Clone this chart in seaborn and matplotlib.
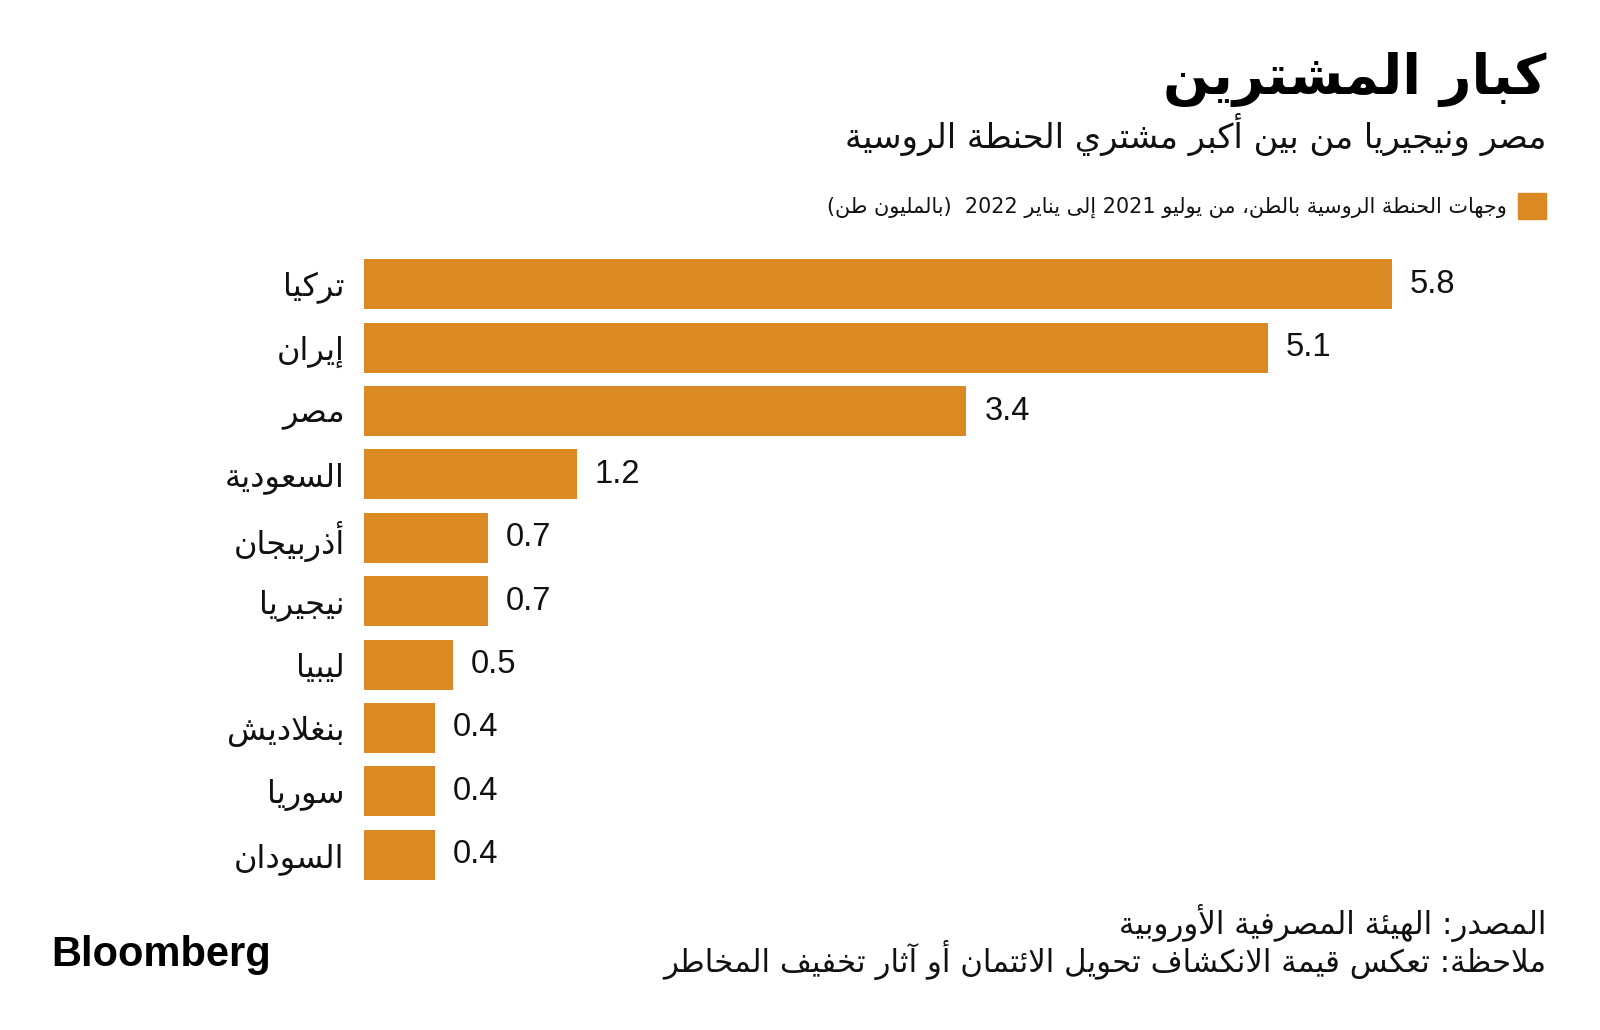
import matplotlib
matplotlib.use("Agg")
import matplotlib.pyplot as plt
import seaborn as sns
from matplotlib.patches import Rectangle

# ---------------- data ----------------
countries = ["تركيا", "إيران", "مصر", "السعودية", "أذربيجان",
             "نيجيريا", "ليبيا", "بنغلاديش", "سوريا", "السودان"]
values = [5.8, 5.1, 3.4, 1.2, 0.7, 0.7, 0.5, 0.4, 0.4, 0.4]

title = "كبار المشترين"
subtitle = "مصر ونيجيريا من بين أكبر مشتري الحنطة الروسية"
legend_label = "وجهات الحنطة الروسية بالطن، من يوليو 2021 إلى يناير 2022  (بالمليون طن)"
source = "المصدر: الهيئة المصرفية الأوروبية"
note = "ملاحظة: تعكس قيمة الانكشاف تحويل الائتمان أو آثار تخفيف المخاطر"
brand = "Bloomberg"

BAR = "#DA8923"

# ---------------- Arabic shaping (presentation forms + visual order) ----------------
DUAL = {'ئ': 0xFE89, 'ب': 0xFE8F, 'ت': 0xFE95, 'ث': 0xFE99, 'ج': 0xFE9D, 'ح': 0xFEA1,
        'خ': 0xFEA5, 'س': 0xFEB1, 'ش': 0xFEB5, 'ص': 0xFEB9, 'ض': 0xFEBD, 'ط': 0xFEC1,
        'ظ': 0xFEC5, 'ع': 0xFEC9, 'غ': 0xFECD, 'ف': 0xFED1, 'ق': 0xFED5, 'ك': 0xFED9,
        'ل': 0xFEDD, 'م': 0xFEE1, 'ن': 0xFEE5, 'ه': 0xFEE9, 'ي': 0xFEF1}
RIGHT = {'آ': 0xFE81, 'أ': 0xFE83, 'ؤ': 0xFE85, 'إ': 0xFE87, 'ا': 0xFE8D, 'ة': 0xFE93,
         'د': 0xFEA9, 'ذ': 0xFEAB, 'ر': 0xFEAD, 'ز': 0xFEAF, 'و': 0xFEED, 'ى': 0xFEEF}
LAMALEF = {'آ': 0xFEF5, 'أ': 0xFEF7, 'إ': 0xFEF9, 'ا': 0xFEFB}
MIRROR = {'(': ')', ')': '('}


def shape(s):
    toks = []
    i = 0
    while i < len(s):
        c = s[i]
        if c == 'ل' and i + 1 < len(s) and s[i + 1] in LAMALEF:
            toks.append(('LA', s[i + 1]))
            i += 2
        else:
            toks.append(('C', c))
            i += 1

    def jl(t):  # joins to following letter
        return t[0] == 'C' and t[1] in DUAL

    def jr(t):  # joins to preceding letter
        return t[0] == 'LA' or t[1] in DUAL or t[1] in RIGHT

    out = []
    n = len(toks)
    for k, t in enumerate(toks):
        pc = k > 0 and jl(toks[k - 1]) and jr(t)
        nc = k < n - 1 and jl(t) and jr(toks[k + 1])
        if t[0] == 'LA':
            out.append(chr(LAMALEF[t[1]] + (1 if pc else 0)))
        elif t[1] in DUAL:
            b = DUAL[t[1]]
            off = 3 if (pc and nc) else 1 if pc else 2 if nc else 0
            out.append(chr(b + off))
        elif t[1] in RIGHT:
            out.append(chr(RIGHT[t[1]] + (1 if pc else 0)))
        else:
            out.append(t[1])
    # bidi: RTL base, keep LTR runs (digits/latin) in order
    runs = []
    for ch in out:
        ltr = ch.isascii() and ch.isalnum()
        if runs and runs[-1][0] == ltr:
            runs[-1][1].append(ch)
        else:
            runs.append([ltr, [ch]])
    vis = []
    for ltr, chars in reversed(runs):
        if ltr:
            vis.append(''.join(chars))
        else:
            vis.append(''.join(MIRROR.get(c, c) for c in reversed(chars)))
    return ''.join(vis)


# ---------------- figure ----------------
W, H = 1600, 1030
fig = plt.figure(figsize=(W / 100, H / 100), dpi=100)
fig.patch.set_facecolor("white")

XMAX = 6.5
PX_PER_UNIT = 177.2
left_px, top_px, bot_px = 364, 252.5, 886.5
ax = fig.add_axes([left_px / W, 1 - bot_px / H, XMAX * PX_PER_UNIT / W, (bot_px - top_px) / H])

labels_vis = [shape(c) for c in countries]
sns.barplot(x=values, y=labels_vis, orient="h", color=BAR, saturation=1,
            width=0.79, ax=ax)
ax.set_xlim(0, XMAX)
ax.set_ylim(9.5, -0.5)
for s in ax.spines.values():
    s.set_visible(False)
ax.set_xticks([])
ax.set_xlabel("")
ax.set_ylabel("")
ax.tick_params(axis="y", length=0, pad=14)
for lab in ax.get_yticklabels():
    lab.set_fontfamily("DejaVu Sans")
    lab.set_fontsize(23)
    lab.set_color("#111111")

ax.bar_label(ax.containers[0], labels=[f"{v:.1f}" for v in values], padding=13,
             fontsize=23.5, family="Liberation Sans", color="#111111")

renderer = fig.canvas.get_renderer()


def fit_text(x_px, base_px, s, target_w, size0, **kw):
    t = fig.text(x_px / W, 1 - base_px / H, s, fontsize=size0, va="baseline", **kw)
    w = t.get_window_extent(renderer).width
    t.set_fontsize(size0 * target_w / w)
    return t


R = 1546
fit_text(R, 94, shape(title), 383, 40, ha="right", family="DejaVu Sans",
         fontweight="bold", color="black")
fit_text(R, 148, shape(subtitle), 707, 24, ha="right", family="DejaVu Sans",
         color="#111111")
fit_text(1507, 213, shape(legend_label), 681, 15, ha="right", family="DejaVu Sans",
         color="#111111")
fig.patches.append(Rectangle((1518 / W, 1 - 219 / H), 28 / W, 26 / H,
                             transform=fig.transFigure, color=BAR))
fit_text(R, 934, shape(source), 427, 20, ha="right", family="DejaVu Sans",
         color="#111111")
fit_text(R, 972, shape(note), 882, 20, ha="right", family="DejaVu Sans",
         color="#111111")
fit_text(51, 966, brand, 220, 28, ha="left", family="Liberation Sans",
         fontweight="bold", color="black")

fig.savefig("out.png", dpi=100, facecolor="white")
